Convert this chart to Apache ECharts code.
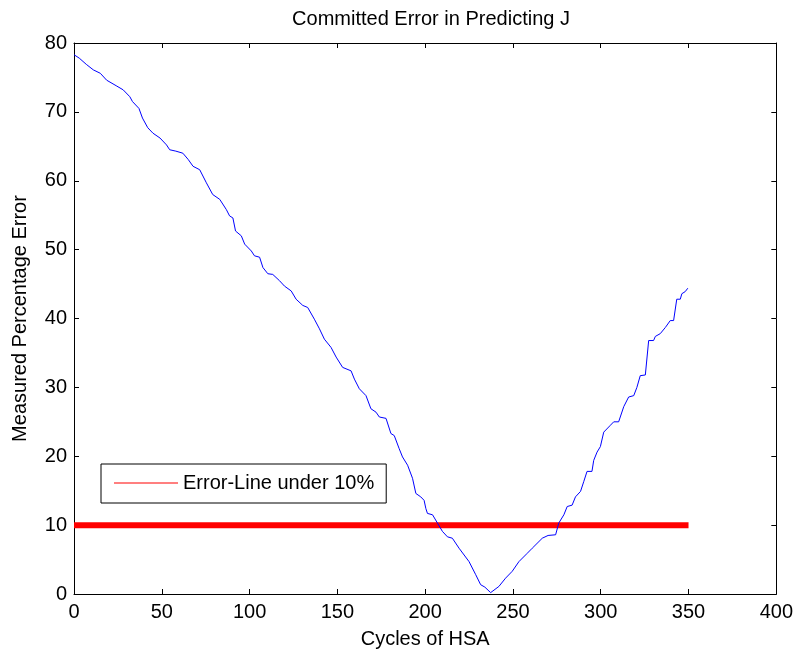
<!DOCTYPE html>
<html>
<head>
<meta charset="utf-8">
<script src="https://cdn.jsdelivr.net/npm/echarts@6/dist/echarts.min.js"></script>
<style>
html,body{margin:0;padding:0;background:#fff;}
#chart{width:796px;height:654px;}
</style>
</head>
<body>
<div id="chart"></div>
<script>
const titleText = 'Committed Error in Predicting J';
const xAxisName = 'Cycles of HSA';
const yAxisName = 'Measured Percentage Error';
const legendName = 'Error-Line under 10%';

const errorCurve = [
  [0,78.3],[3,77.8],[7,76.9],[11,76.1],[15,75.6],[18.6,74.6],[24,73.8],[28,73.2],[31.8,72.2],[33.3,71.5],
  [37,70.5],[39,69.1],[42,67.7],[45,66.9],[49,66.2],[52.7,65.2],[54.5,64.5],[58,64.3],[62,64.0],[65,63.1],
  [67.8,62.1],[71.6,61.6],[75.4,59.7],[79,58.0],[83,57.3],[86.8,55.8],[88.6,54.9],[90.5,54.6],[92,52.7],
  [95.3,52.0],[97.2,50.8],[101,49.8],[102.8,49.1],[105.7,48.9],[107.6,47.4],[110.4,46.5],[113.2,46.4],
  [117,45.5],[119.9,44.7],[123.7,44.0],[126.5,42.8],[130.3,41.9],[133.1,41.6],[136.9,39.9],[139.8,38.5],
  [142.6,37.0],[146.4,35.8],[149.3,34.4],[153,32.9],[157.8,32.4],[159.7,31.2],[162.5,29.8],[166.3,28.8],
  [169.1,26.9],[172,26.4],[173.9,25.7],[177.7,25.5],[180.5,23.3],[182.4,23.0],[185.2,21.1],[187.1,19.9],
  [190,18.7],[192.8,16.8],[194.7,14.6],[197.5,14.1],[199.4,13.6],[200.4,12.4],[201.3,11.7],[204.2,11.5],
  [207,10.3],[209.8,9.1],[212.7,8.3],[215.5,8.1],[219.3,6.65],[225,4.7],[228.8,2.8],[231.6,1.35],[234,1.0],
  [237.3,0.2],[242,1.1],[245.8,2.3],[249.6,3.3],[253.4,4.7],[258.1,5.9],[261,6.65],[266.7,8.1],[270,8.5],
  [274.3,8.6],[276.1,10.3],[279,11.5],[280.9,12.7],[283.7,12.9],[285.6,14.1],[288.5,14.9],[290.3,16.3],
  [292.2,17.8],[295,17.8],[296,19.4],[297.9,20.6],[299.8,21.4],[301.7,23.5],[305.5,24.5],[307.4,25.0],
  [310.2,25.0],[313.1,27.2],[315.9,28.6],[318.8,28.8],[320.6,30.0],[322.5,31.7],[325.4,31.8],[327.3,36.8],
  [330.1,36.8],[331.1,37.4],[333.9,37.8],[336.8,38.7],[339.6,39.7],[341.5,39.7],[343.3,42.8],[345.3,42.8],
  [346.2,43.6],[348.1,43.9],[349.6,44.4]
];
const thresholdLine = [[0,10],[350,10]];

const chart = echarts.init(document.getElementById('chart'), null, {renderer:'canvas'});
const font = 'Arial, "Liberation Sans", Helvetica, sans-serif';
const axisCommon = {
  axisLine:{show:true,onZero:false,lineStyle:{color:'#000',width:1}},
  axisTick:{show:true,inside:true,length:5,lineStyle:{color:'#000',width:1}},
  splitLine:{show:false}
};
chart.setOption({
  backgroundColor:'#fff',
  animation:false,
  title:{text:titleText,left:426,textAlign:'center',top:4,
    textStyle:{fontFamily:font,fontSize:20,fontWeight:'normal',color:'#000'}},
  grid:{left:74,top:43,right:18,bottom:58,containLabel:false},
  legend:{
    data:[{name:legendName}],
    icon:'rect',
    left:101,top:464,itemWidth:64,itemHeight:1,
    padding:[9,12,10,13],
    borderColor:'#000',borderWidth:1,backgroundColor:'#fff',
    textStyle:{fontFamily:font,fontSize:20,color:'#000'},
    itemStyle:{color:'#ff0000',borderWidth:0},
    lineStyle:{width:0},
    selectedMode:false
  },
  xAxis:[
    Object.assign({type:'value',min:0,max:400,interval:50,position:'bottom',
      name:xAxisName,nameLocation:'middle',nameGap:35,
      nameTextStyle:{fontFamily:font,fontSize:20,color:'#000'},
      axisLabel:{fontFamily:font,fontSize:20,color:'#000',margin:8}},axisCommon),
    Object.assign({type:'value',min:0,max:400,interval:50,position:'top',
      axisLabel:{show:false}},axisCommon)
  ],
  yAxis:[
    Object.assign({type:'value',min:0,max:80,interval:10,position:'left',
      name:yAxisName,nameLocation:'middle',nameGap:44,
      nameTextStyle:{fontFamily:font,fontSize:20,color:'#000'},
      axisLabel:{fontFamily:font,fontSize:20,color:'#000',margin:7}},axisCommon),
    Object.assign({type:'value',min:0,max:80,interval:10,position:'right',
      axisLabel:{show:false}},axisCommon)
  ],
  series:[
    {name:legendName,type:'line',data:thresholdLine,symbol:'none',
      lineStyle:{color:'#ff0000',width:6,cap:'butt'},itemStyle:{color:'#ff0000'},z:2},
    {name:'error',type:'line',data:errorCurve,symbol:'none',
      lineStyle:{color:'#0000ff',width:1},z:3}
  ]
});
</script>
</body>
</html>
